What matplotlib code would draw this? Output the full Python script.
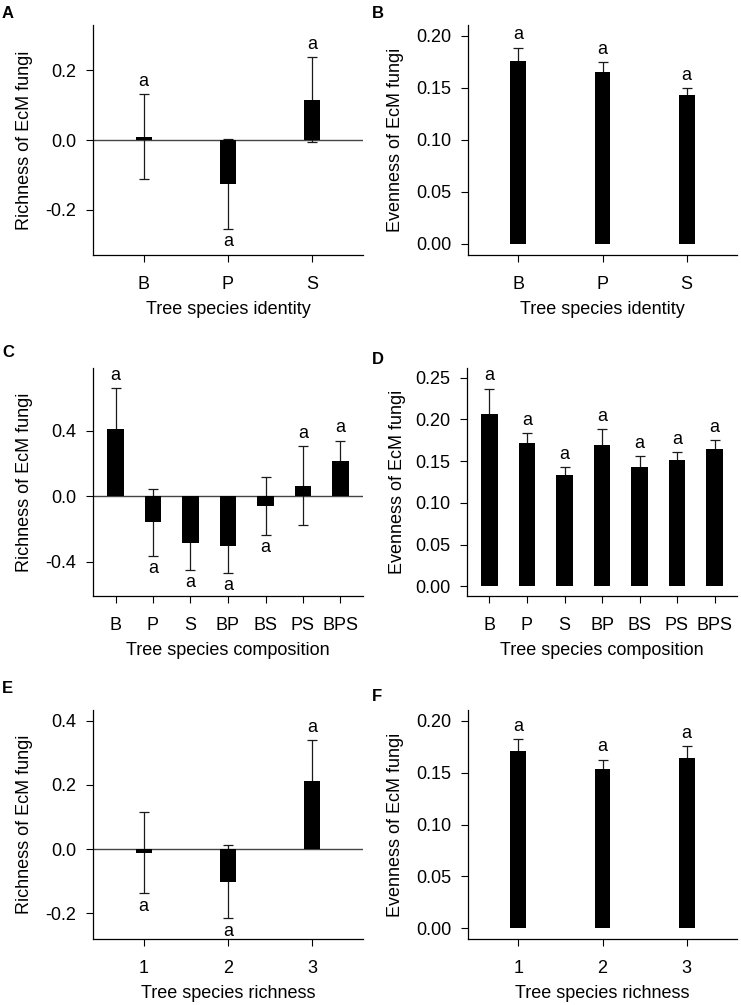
import numpy as np
import matplotlib.pyplot as plt

plt.rcParams['font.family'] = ['Liberation Sans', 'DejaVu Sans']
plt.rcParams['axes.unicode_minus'] = False

# ---- data ----
ident = ['B', 'P', 'S']
rich_ident = [0.010, -0.127, 0.116]
rich_ident_se = [0.122, 0.129, 0.122]
even_ident = [0.1756, 0.1648, 0.1427]
even_ident_se = [0.0130, 0.0096, 0.0067]

compo = ['B', 'P', 'S', 'BP', 'BS', 'PS', 'BPS']
rich_compo = [0.410, -0.159, -0.288, -0.306, -0.061, 0.063, 0.214]
rich_compo_se = [0.251, 0.204, 0.165, 0.163, 0.175, 0.240, 0.125]
even_compo = [0.2064, 0.1716, 0.1336, 0.1696, 0.1424, 0.1508, 0.1640]
even_compo_se = [0.0306, 0.0120, 0.0096, 0.0184, 0.0132, 0.0096, 0.0116]

richn = ['1', '2', '3']
rich_richn = [-0.011, -0.102, 0.213]
rich_richn_se = [0.127, 0.114, 0.126]
even_richn = [0.1712, 0.1538, 0.1638]
even_richn_se = [0.0110, 0.0087, 0.0115]

letters_ident = ['a', 'a', 'a']
letters_compo = ['a'] * 7
letters_richn = ['a', 'a', 'a']

W, H = 741, 1005
fig = plt.figure(figsize=(W / 100, H / 100), dpi=100)


def make_ax(l, t, r, b):
    # pixel box -> figure fraction
    return fig.add_axes([l / W, 1 - b / H, (r - l) / W, (b - t) / H])


def panel(ax, cats, vals, se, letters, ylim, yticks, fmt, ylab, xlab,
          zero_line, ylab_x, bw):
    x = np.arange(1, len(cats) + 1)
    # error bars under the bars, like the R barplot + arrows
    ax.errorbar(x, vals, yerr=se, fmt='none', ecolor='#1a1a1a',
                elinewidth=0.9, capsize=3.6, capthick=0.9, zorder=1.5)
    ax.bar(x, vals, width=bw, color='black', zorder=2)
    if zero_line:
        ax.axhline(0, color='#444444', lw=1, zorder=1)
    for xi, v, s, lt in zip(x, vals, se, letters):
        if v >= 0:
            ax.annotate(lt, (xi, v + s), xytext=(0, 3), textcoords='offset points',
                        ha='center', va='bottom', fontsize=13)
        else:
            ax.annotate(lt, (xi, v - s), xytext=(0, -3), textcoords='offset points',
                        ha='center', va='top', fontsize=13)
    ax.set_xlim(0.4, len(cats) + 0.6)
    ax.set_ylim(ylim)
    ax.set_xticks(x)
    ax.set_xticklabels(cats)
    ax.set_yticks(yticks)
    ax.set_yticklabels([fmt % t for t in yticks])
    ax.spines['top'].set_visible(False)
    ax.spines['right'].set_visible(False)
    ax.spines['left'].set_linewidth(0.9)
    ax.spines['bottom'].set_linewidth(0.9)
    ax.tick_params(direction='out', length=5, width=0.8, labelsize=13)
    ax.tick_params(axis='x', pad=10)
    ax.tick_params(axis='y', pad=7)
    ax.set_ylabel(ylab, fontsize=13, va='center')
    ax.yaxis.set_label_coords(ylab_x, 0.5)
    ax.set_xlabel(xlab, fontsize=13)
    ax.xaxis.set_label_coords(0.5, -0.2)


def tag(px, py, s):
    fig.text(px / W, 1 - py / H, s, fontsize=12, fontweight='bold',
             ha='left', va='center')


axA = make_ax(93, 25, 363, 255)
panel(axA, ident, rich_ident, rich_ident_se, letters_ident, (-0.33, 0.33),
      [-0.2, 0.0, 0.2], '%.1f', 'Richness of EcM fungi', 'Tree species identity',
      True, -0.252, 0.19)

axB = make_ax(468, 25, 737, 255)
panel(axB, ident, even_ident, even_ident_se, letters_ident, (-0.0106, 0.2103),
      [0.0, 0.05, 0.10, 0.15, 0.20], '%.2f', 'Evenness of EcM fungi',
      'Tree species identity', False, -0.27, 0.19)

axC = make_ax(93, 368, 363, 596)
panel(axC, compo, rich_compo, rich_compo_se, letters_compo, (-0.61, 0.782),
      [-0.4, 0.0, 0.4], '%.1f', 'Richness of EcM fungi', 'Tree species composition',
      True, -0.252, 0.44)

axD = make_ax(467, 368, 737, 596)
panel(axD, compo, even_compo, even_compo_se, letters_compo, (-0.0116, 0.2616),
      [0.0, 0.05, 0.10, 0.15, 0.20, 0.25], '%.2f', 'Evenness of EcM fungi',
      'Tree species composition', False, -0.256, 0.44)

axE = make_ax(93, 710, 363, 939)
panel(axE, richn, rich_richn, rich_richn_se, letters_richn, (-0.28, 0.433),
      [-0.2, 0.0, 0.2, 0.4], '%.1f', 'Richness of EcM fungi', 'Tree species richness',
      True, -0.252, 0.19)

axF = make_ax(468, 710, 737, 939)
panel(axF, richn, even_richn, even_richn_se, letters_richn, (-0.0103, 0.2103),
      [0.0, 0.05, 0.10, 0.15, 0.20], '%.2f', 'Evenness of EcM fungi',
      'Tree species richness', False, -0.27, 0.19)

tag(2, 13, 'A')
tag(372, 13, 'B')
tag(2, 352, 'C')
tag(372, 359, 'D')
tag(2, 688, 'E')
tag(372, 696, 'F')

fig.savefig('out.png', dpi=100)
